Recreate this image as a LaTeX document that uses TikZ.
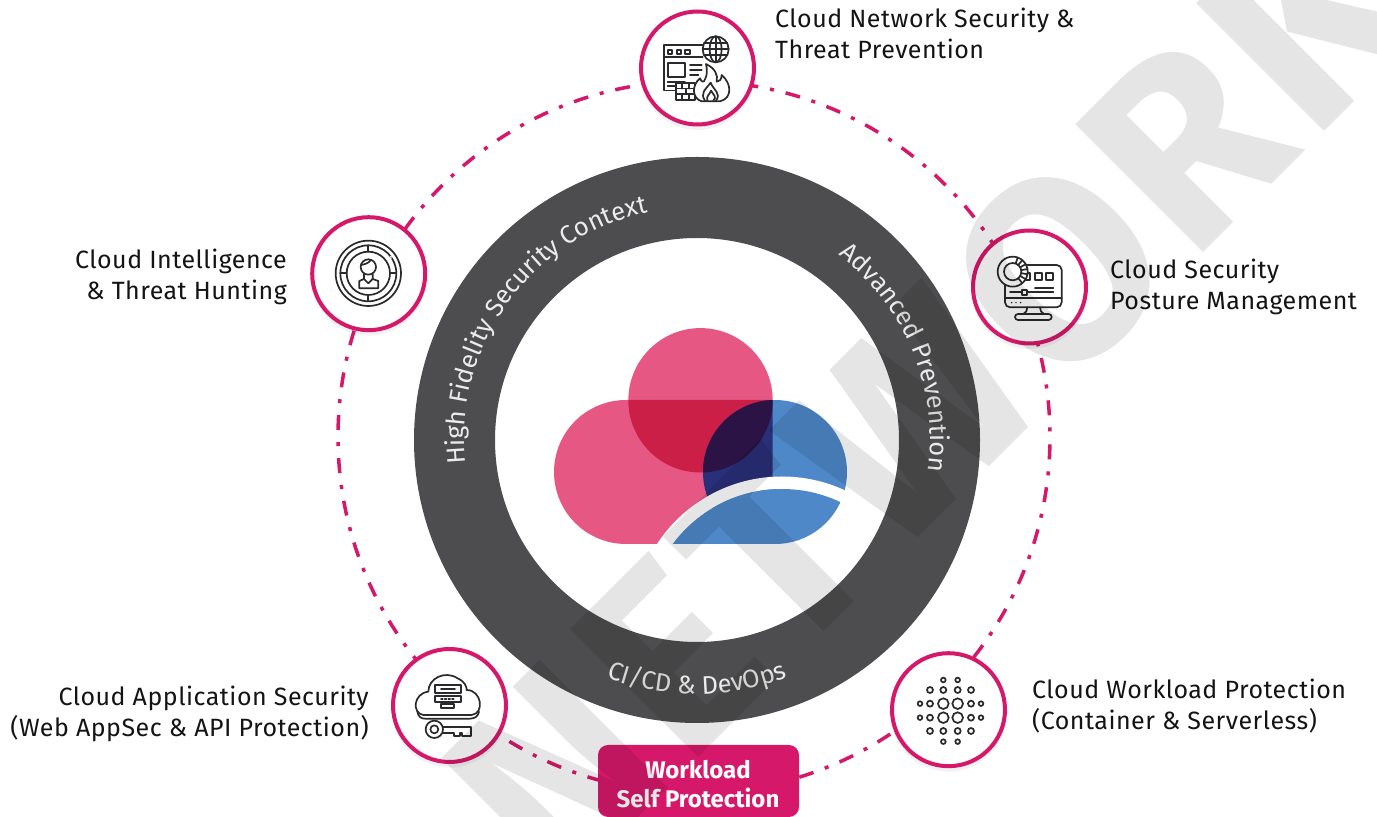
\documentclass[tikz,border=0pt]{standalone}
\usepackage{fontspec}
\setmainfont{Fira Sans}
\usetikzlibrary{decorations.text}
\definecolor{pinkc}{HTML}{D6186A}
\definecolor{ringc}{HTML}{4D4D4F}
\definecolor{lpink}{HTML}{E65883}
\definecolor{lred}{HTML}{CB1F47}
\definecolor{lblue}{HTML}{4F88C9}
\definecolor{lnavy}{HTML}{2A2F7A}
\definecolor{ldark}{HTML}{2B1345}
\definecolor{inkc}{HTML}{2A2A2C}
\newcommand{\lblfont}{\fontsize{25}{31}\selectfont\addfontfeatures{LetterSpace=2}}
\newcommand{\ringfont}{\fontsize{25.5}{30}\selectfont\color{white!92!black}}
\tikzset{
  x=1pt,y=1pt,
  lbl/.style={font=\lblfont,text=black!92,inner sep=0pt},
  hub/.style={circle,draw=pinkc,line width=4pt,fill=white,minimum size=113pt,inner sep=0pt},
  hubshadow/.style={circle,fill=black,opacity=.05,minimum size=116pt,inner sep=0pt},
  ico/.style={draw=inkc,line width=1.7pt,line join=round,line cap=round},
  icof/.style={ico,fill=white},
  icon/.style={x=.3333pt,y=-.3333pt}
}
\begin{document}
\begin{tikzpicture}
\useasboundingbox (0,0) rectangle (1377,817);
\fill[white] (0,0) rectangle (1377,817);
% dashed orbit
\coordinate (orbit) at (694,817-437);
\draw[pinkc,line width=3.5pt,dash pattern=on 15pt off 12pt on 4pt off 12pt,dash phase=21.3pt] (orbit) circle (356);
% ring
\coordinate (ctr) at (697,817-440);
\fill[ringc,even odd rule] (ctr) circle (283) (ctr) circle (202);
\path[decorate,decoration={text along path,text align=center,
  text={|\ringfont|High Fidelity Security Context}}]
  (ctr) ++(200:233) arc (200:88:233);
\path[decorate,decoration={text along path,text align=center,
  text={|\ringfont|Advanced Prevention}}]
  (ctr) ++(67:233) arc (67:-22:233);
\path[decorate,decoration={text along path,text align=center,
  text={|\ringfont|CI/CD {\&} DevOps}}]
  (ctr) ++(240:254) arc (240:300:254);
% logo
\def\pill{(772.7,817-400) -- (626,817-400) arc (90:270:72) -- (772.7,817-544) -- cycle}
\coordinate (topc) at (700.5,817-400.3);
\coordinate (bluec) at (775,817-472);
\fill[lpink] (topc) circle (72.2);
\fill[lpink] \pill;
\fill[lblue] (bluec) circle (72);
\begin{scope}
  \clip \pill;
  \fill[lred] (topc) circle (72.2);
  \fill[lnavy] (bluec) circle (72);
  \clip (topc) circle (72.2);
  \fill[ldark] (bluec) circle (72);
\end{scope}
\begin{scope}
  \clip (640,817-546) rectangle (860,817-470);
  \fill[white] (782,817-626) circle (149.5);
\end{scope}
\begin{scope}
  \clip (782,817-625) circle (136);
  \clip (600,817-544) rectangle (860,817-470);
  \fill[lblue] (660,817-470) rectangle (775,817-544);
  \fill[lblue] (bluec) circle (72);
\end{scope}
% hubs
\foreach \hx/\hy in {697.5/68,1029.5/287,368.7/273.7,449.5/705.5,948.5/709.7}
  \node[hubshadow] at (\hx,817-\hy-4) {};
\node[hub] (netsec) at (697.5,817-68) {};
\node[hub] (cspm) at (1029.5,817-287) {};
\node[hub] (intel) at (368.7,817-273.7) {};
\node[hub] (appsec) at (449.5,817-705.5) {};
\node[hub] (cwp) at (948.5,817-709.7) {};
% icon: network security
\begin{scope}[shift={(620pt,817pt)},icon]
  \draw[ico] (165,272) -- (132,272) -- (132,135) -- (250,135);
  \draw[ico] (132,170) -- (248,170);
  \foreach \a in {143,170,195} \draw[ico] (\a,150) rectangle ++(14,12);
  \draw[ico,line width=2.2pt] (143,190) rectangle (195,232);
  \draw[ico] (210,195) -- (245,195) (210,210) -- (245,210) (210,225) -- (235,225);
  \draw[ico] (143,245) -- (195,245) (143,258) -- (165,258);
  \draw[icof] (168,250) rectangle (225,300);
  \draw[ico] (168,266) -- (225,266) (168,283) -- (225,283)
    (187,250) -- (187,266) (206,250) -- (206,266)
    (197,266) -- (197,283) (187,283) -- (187,300) (206,283) -- (206,300);
  \draw[icof] (287,148) circle (39);
  \draw[ico] (287,148) ellipse (18 and 39);
  \draw[ico] (287,109) -- (287,187) (252,130) -- (322,130) (252,166) -- (322,166) (248,148) -- (326,148);
  \draw[icof] (245,304) .. controls (215,295) and (215,255) .. (240,235)
     .. controls (245,248) and (252,248) .. (255,238)
     .. controls (262,225) and (262,210) .. (258,192)
     .. controls (285,205) and (295,225) .. (290,245)
     .. controls (297,245) and (305,240) .. (305,225)
     .. controls (335,250) and (338,295) .. (300,304) -- cycle;
  \draw[ico] (255,302) .. controls (240,280) and (255,270) .. (272,248)
     .. controls (280,270) and (305,280) .. (288,302);
  \draw[ico] (262,302) .. controls (258,285) and (270,285) .. (273,272)
     .. controls (280,285) and (292,290) .. (280,302);
\end{scope}
% icon: posture management
\begin{scope}[shift={(960pt,597pt)},icon]
  \draw[ico,rounded corners=5pt] (135,135) rectangle (305,262);
  \draw[ico] (135,235) -- (305,235);
  \foreach \a in {190,225,258} \draw[ico] (\a,160) rectangle ++(21,21);
  \draw[ico] (225,203) -- (280,203) (150,217) -- (280,217);
  \fill[inkc] (226,205) circle (2.5);
  \draw[icof] (185,209) rectangle (200,225);
  \foreach \a in {155,168,182} \fill[inkc] (\a,248) circle (2.5);
  \draw[ico] (202,262) .. controls (202,272) and (198,278) .. (190,282)
     (240,262) .. controls (240,272) and (244,278) .. (252,282);
  \draw[icof,rounded corners=3pt] (165,282) rectangle (275,300);
  \draw[icof] (158,155) circle (45);
  \draw[ico] (158,155) circle (26);
  \foreach \a in {-70,-50,-30,-10,10,30,50} \draw[ico] (158,155) ++(\a:26) -- ++(\a:19);
\end{scope}
% icon: intelligence
\begin{scope}[shift={(300pt,612pt)},icon]
  \draw[ico] (205,205) circle (98);
  \draw[ico] (205,205) circle (84);
  \draw[ico] (205,205) circle (65);
  \draw[ico] (205,121) -- (205,140) (205,270) -- (205,289) (121,205) -- (140,205) (270,205) -- (289,205);
  \fill[white] (273,157) circle (5);
  \fill[inkc] (273,157) circle (2);
  \draw[ico] (205,186) circle (23);
  \draw[ico] (183,180) .. controls (195,178) and (205,175) .. (213,165);
  \draw[ico] (192,208) -- (192,222) -- (178,228) -- (178,250) -- (235,250) -- (235,228) -- (218,222) -- (218,208);
  \draw[ico] (192,222) -- (205,235) -- (218,222);
\end{scope}
% icon: app security
\begin{scope}[shift={(385pt,177pt)},icon]
  \draw[ico] (115,225) .. controls (80,220) and (85,160) .. (130,155)
    .. controls (130,115) and (180,90) .. (218,115)
    .. controls (240,125) and (245,140) .. (245,150)
    .. controls (290,150) and (300,220) .. (260,225) -- cycle;
  \draw[ico] (97,215) .. controls (100,232) and (110,236) .. (120,236) -- (255,236) .. controls (270,236) and (280,228) .. (282,215);
  \draw[icof] (150,135) rectangle (228,158);
  \draw[icof] (150,167) rectangle (228,187);
  \draw[ico] (168,146) -- (210,146);
  \draw[ico,dotted] (168,177) -- (210,177);
  \draw[ico] (168,193) rectangle (208,205);
  \draw[ico] (148,268) circle (26);
  \draw[ico] (148,268) circle (12);
  \draw[ico] (173,260) -- (258,260) -- (258,288) -- (232,288) -- (232,278) -- (224,278) -- (224,288) -- (207,288) -- (207,278) -- (173,278);
\end{scope}
% icon: workload dots
\begin{scope}[shift={(885pt,172pt)},icon]
  \foreach \a/\b/\r in {175/105/7,218/105/7,
    135/135/9,175/135/9,218/135/9,258/135/9,
    105/176/7,135/176/9,175/176/16,218/176/16,258/176/9,288/176/7,
    105/218/7,135/218/9,175/218/16,218/218/16,258/218/9,288/218/7,
    135/258/9,175/258/9,218/258/9,258/258/9,
    175/290/7,218/290/7}
    \draw[inkc,line width=1.7pt] (\a,\b) circle (\r);
\end{scope}
% labels
\node[lbl,anchor=west,align=left] (l1) at (775,817-33) {Cloud Network Security \&\\Threat Prevention};
\node[lbl,anchor=west,align=left] (l2) at (1110,817-287) {Cloud Security\\Posture Management};
\node[lbl,anchor=east,align=right] (l3) at (287,817-277) {Cloud Intelligence\\\& Threat Hunting};
\node[lbl,anchor=east,align=right] (l4) at (369,817-714) {Cloud Application Security\\(Web AppSec \& API Protection)};
\node[lbl,anchor=west,align=left] (l5) at (1032,817-706) {Cloud Workload Protection\\(Container \& Serverless)};
% box
\fill[pinkc,rounded corners=10pt] (598,0) rectangle (799,817-745);
\node[inner sep=0pt,align=center,text=white,font=\fontsize{24}{29.5}\selectfont\bfseries] (self) at (698,817-784) {Workload\\Self Protection};
% watermark
\node[rotate=45,anchor=base west,text=black,opacity=.1,inner sep=0pt,font=\fontsize{261}{261}\selectfont\bfseries\addfontfeatures{LetterSpace=3.4}] (wm) at (557.5,817-898.5) {NETWORK};
\end{tikzpicture}
\end{document}
